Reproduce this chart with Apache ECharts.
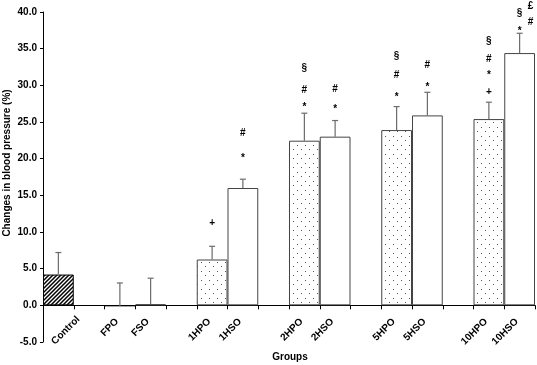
<!DOCTYPE html>
<html>
<head>
<meta charset="utf-8">
<script src="https://cdn.jsdelivr.net/npm/echarts@6/dist/echarts.min.js"></script>
<style>
    html, body { margin: 0; padding: 0; background: #fff; }
    #blood_pressure_chart { width: 537px; height: 365px; }
</style>
</head>
<body>
<div id="blood_pressure_chart"></div>
<script>
// 组别 (空字符串 = 组间空位)
var groups = ['Control', '', 'FPO', 'FSO', '', '1HPO', '1HSO', '', '2HPO', '2HSO', '', '5HPO', '5HSO', '', '10HPO', '10HSO'];
// 血压变化均值 (%)
var means = [4.2, null, -0.1, 0.15, null, 6.25, 16.0, null, 22.45, 23.0, null, 23.9, 25.9, null, 25.4, 34.4];
// 误差 (只画上半部分)
var errors = [3.0, null, 3.15, 3.55, null, 1.8, 1.2, null, 3.75, 2.2, null, 3.2, 3.15, null, 2.3, 2.7];
// y 轴刻度
var yTicks = [-5, 0, 5, 10, 15, 20, 25, 30, 35, 40];
// 显著性标记: [组别, 位置, 符号]
var marks = [
    ['1HPO', 11.2, '+'],
    ['1HSO', 20.0, '*'], ['1HSO', 23.4, '#'],
    ['2HPO', 27.0, '*'], ['2HPO', 29.3, '#'], ['2HPO', 32.3, '§'],
    ['2HSO', 26.8, '*'], ['2HSO', 29.5, '#'],
    ['5HPO', 28.4, '*'], ['5HPO', 31.4, '#'], ['5HPO', 33.9, '§'],
    ['5HSO', 29.8, '*'], ['5HSO', 32.7, '#'],
    ['10HPO', 29.0, '+'], ['10HPO', 31.4, '*'], ['10HPO', 33.5, '#'], ['10HPO', 36.0, '§'],
    ['10HSO', 37.4, '*'], ['10HSO', 39.85, '§']
];
// 10HSO 右侧一列标记
var sideMarks = [
    ['10HSO', 38.6, '#'], ['10HSO', 40.8, '£']
];

var FONT = 'Liberation Sans, Arial, sans-serif';
var GRID = {left: 43, right: 2, top: 12, bottom: 23};
var CHART_W = 537;
var CHART_H = 365;

/**
 * 斜线填充 (Control)
 */
function hatchPattern() {
    var c = document.createElement('canvas');
    c.width = 4;
    c.height = 4;
    var ctx = c.getContext('2d');
    ctx.fillStyle = '#fff';
    ctx.fillRect(0, 0, 4, 4);
    ctx.strokeStyle = '#000';
    ctx.lineWidth = 1.5;
    ctx.beginPath();
    ctx.moveTo(-1, 5); ctx.lineTo(5, -1);
    ctx.moveTo(-1, 1); ctx.lineTo(1, -1);
    ctx.moveTo(3, 5); ctx.lineTo(5, 3);
    ctx.stroke();
    return c;
}

/**
 * 点状填充 (HPO)
 */
function dotPattern() {
    var c = document.createElement('canvas');
    c.width = 8;
    c.height = 9;
    var ctx = c.getContext('2d');
    ctx.fillStyle = '#fff';
    ctx.fillRect(0, 0, 8, 9);
    ctx.fillStyle = '#555';
    ctx.fillRect(1, 1, 1, 1);
    ctx.fillRect(5, 5, 1, 1);
    return c;
}

function barColor(name) {
    if (name === 'Control') return {image: hatchPattern(), repeat: 'repeat'};
    if (name.indexOf('HPO') > 0) return {image: dotPattern(), repeat: 'repeat'};
    if (name === 'FPO') return '#000';
    return '#fff';
}

function markData(list, dx) {
    return list.map(function (m) {
        return [groups.indexOf(m[0]), m[1], m[2], dx];
    });
}

/**
 * 显著性标记 (文字)
 */
function renderMark(params, api) {
    var p = api.coord([api.value(0), api.value(1)]);
    return {
        type: 'text',
        x: p[0] + api.value(3),
        y: p[1],
        style: {
            text: api.value(2),
            fill: '#000',
            font: 'bold 10px ' + FONT,
            textAlign: 'center',
            textVerticalAlign: 'middle'
        }
    };
}

/**
 * 血压变化柱状图
 */
function blood_pressure_chart() {
    var myChart = echarts.init(document.getElementById('blood_pressure_chart'), null, {renderer: 'canvas'});

    var barData = [];
    var errData = [];
    for (var i = 0; i < groups.length; i++) {
        if (means[i] === null) {
            barData.push(null);
            continue;
        }
        barData.push({
            value: means[i],
            itemStyle: {
                color: barColor(groups[i]),
                borderColor: groups[i] === 'Control' || groups[i] === 'FPO' ? '#000' : '#444',
                borderWidth: 1
            }
        });
        errData.push([i, means[i], errors[i]]);
    }

    // x 轴放到 0 的位置 (标签一起移动)
    var yMin = yTicks[0], yMax = yTicks[yTicks.length - 1];
    var plotH = CHART_H - GRID.top - GRID.bottom;
    var zeroY = GRID.top + yMax / (yMax - yMin) * plotH;
    var zeroOffset = -(0 - yMin) / (yMax - yMin) * plotH;
    // Control 的标签在原图里靠右, 单独画
    var slotW = (CHART_W - GRID.left - GRID.right) / groups.length;

    var option = null;
    option = {
        animation: false,
        backgroundColor: '#fff',
        grid: {left: GRID.left, right: GRID.right, top: GRID.top, bottom: GRID.bottom, containLabel: false, outerBoundsMode: 'none'},
        xAxis: {
            type: 'category',
            data: groups,
            offset: zeroOffset,
            axisLine: {onZero: false, lineStyle: {color: '#000', width: 1}},
            axisTick: {show: true, length: 4, interval: 0, lineStyle: {color: '#000'}},
            axisLabel: {
                interval: 0,
                rotate: 45,
                margin: 12,
                padding: [0, 4, 0, 0],
                color: '#000',
                fontFamily: FONT,
                fontWeight: 'bold',
                fontSize: 10,
                formatter: function (v) { return v === 'Control' ? '' : v; }
            },
            splitLine: {show: false}
        },
        yAxis: {
            type: 'value',
            min: yMin,
            max: yMax,
            interval: 5,
            axisLine: {show: true, lineStyle: {color: '#000', width: 1}},
            axisTick: {show: true, length: 3, lineStyle: {color: '#000'}},
            axisLabel: {
                margin: 6,
                color: '#000',
                fontFamily: FONT,
                fontWeight: 'bold',
                fontSize: 10,
                formatter: function (v) { return v.toFixed(1); }
            },
            splitLine: {show: false}
        },
        graphic: [{
            type: 'text',
            x: 7,
            y: 163,
            rotation: Math.PI / 2,
            style: {
                text: 'Changes in blood pressure (%)',
                fill: '#000',
                font: 'bold 10px ' + FONT,
                textAlign: 'center',
                textVerticalAlign: 'middle'
            }
        }, {
            type: 'text',
            x: 290,
            y: 357,
            style: {
                text: 'Groups',
                fill: '#000',
                font: 'bold 10px ' + FONT,
                textAlign: 'center',
                textVerticalAlign: 'middle'
            }
        }, {
            type: 'text',
            x: GRID.left + slotW + 1,
            y: zeroY + 9,
            rotation: Math.PI / 4,
            style: {
                text: groups[0],
                fill: '#000',
                font: 'bold 10px ' + FONT,
                textAlign: 'right',
                textVerticalAlign: 'top'
            }
        }],
        series: [{
            name: 'mean',
            type: 'bar',
            data: barData,
            barWidth: '100%',
            barCategoryGap: 0
        }, {
            name: 'error',
            type: 'custom',
            z: 5,
            data: errData,
            renderItem: function (params, api) {
                var base = api.coord([api.value(0), api.value(1)]);
                var top = api.coord([api.value(0), api.value(1) + api.value(2)]);
                var style = {stroke: '#6b6b6b', lineWidth: 1.2};
                return {
                    type: 'group',
                    children: [{
                        type: 'line',
                        shape: {x1: base[0], y1: base[1], x2: top[0], y2: top[1]},
                        style: style
                    }, {
                        type: 'line',
                        shape: {x1: top[0] - 3, y1: top[1], x2: top[0] + 3, y2: top[1]},
                        style: style
                    }]
                };
            }
        }, {
            name: 'marks',
            type: 'custom',
            clip: false,
            z: 6,
            dimensions: ['x', 'y', 'text', 'dx'],
            encode: {x: 0, y: 1},
            data: markData(marks, 0).concat(markData(sideMarks, 11)),
            renderItem: renderMark
        }]
    };
    if (option && typeof option === "object") {
        myChart.setOption(option, true);
    }
}

blood_pressure_chart();
</script>
</body>
</html>
